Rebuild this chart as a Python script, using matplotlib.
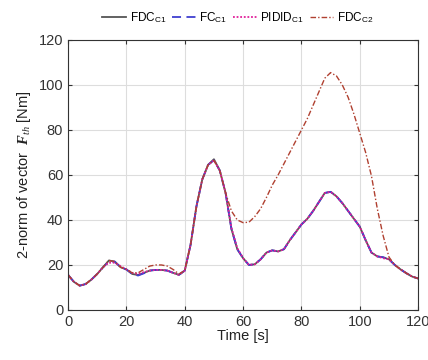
import matplotlib.pyplot as plt

plt.rcParams['font.family'] = ['Liberation Sans', 'DejaVu Sans']
plt.rcParams['mathtext.fontset'] = 'custom'
plt.rcParams['mathtext.rm'] = 'Liberation Sans'
plt.rcParams['mathtext.it'] = 'Liberation Serif:italic'
plt.rcParams['mathtext.bfit'] = 'Liberation Serif:italic:bold'

# time points [s]
t = list(range(0, 121, 2))

fdc_c1 = [15.6, 12.5, 10.8, 11.5, 13.5, 16, 19, 22, 21.5, 19, 18, 16, 15.5, 16.5, 17.5, 17.8,
          17.8, 17.5, 16.5, 15.6, 17.5, 29, 46, 58, 64.5, 67, 62, 52, 36, 27, 23, 20,
          20.3, 22.5, 25.5, 26.5, 26, 27, 31, 34.5, 38, 40.5, 44, 48, 52, 52.5, 50.5, 47.5,
          44, 40.5, 37, 31, 25.5, 23.8, 23.4, 22.5, 20, 18, 16.3, 14.8, 14]
fc_c1 = [15.6, 12.5, 10.8, 11.5, 13.5, 16, 19, 21.5, 21.5, 19, 18, 16, 15.3, 16.3, 17.5, 17.8,
         17.8, 17.5, 16.5, 15.6, 17.5, 29, 46, 58, 64.5, 66.5, 62, 52, 36, 27, 23, 20,
         20.3, 22.5, 25.5, 26.5, 26, 27, 31, 34.5, 38, 40.5, 44, 48, 52, 52.5, 50.5, 47.5,
         44, 40.5, 37, 31, 25.5, 23.8, 23.4, 22.5, 20, 18, 16.3, 14.8, 14]
pidid_c1 = [15.6, 12.5, 10.8, 11.5, 13.5, 16, 19, 21, 21, 19.5, 18, 16.5, 16, 16.8, 17.5, 17.8,
            17.8, 17.5, 16.5, 15.6, 17.5, 29, 46, 58, 64.5, 66.5, 62, 52, 36.5, 27.5, 23, 20,
            20.3, 22.5, 25.5, 26.5, 26, 27, 31, 34.5, 38, 40.5, 44, 48, 52, 52.5, 50.5, 47.5,
            44, 40.5, 37, 31, 25.5, 23.8, 23, 22.5, 20, 18, 16.3, 14.8, 14]
fdc_c2 = [15.6, 12.5, 10.8, 11.5, 13.5, 16, 19, 22, 21.5, 19, 18, 16.5, 16.5, 18, 19.5, 20,
          20, 19.5, 18, 16, 17.5, 29, 46, 58, 64.5, 66.5, 62, 52, 44, 40, 38.8, 39,
          41.5, 45, 50, 55.5, 60, 65, 70, 75, 80, 85, 91, 97, 103, 105.5, 104, 100,
          94.5, 87, 78.5, 70, 59.5, 45, 33, 23.5, 20, 18, 16.3, 14.8, 14]

fig = plt.figure(figsize=(4.28, 3.6), dpi=100)
ax = fig.add_axes([0.159, 0.139, 0.818, 0.75])

ax.plot(t, fdc_c1, color='#555555', lw=1.3, label=r'FDC$_{\mathrm{C1}}$')
ax.plot(t, fc_c1, color='#4040d0', lw=1.3, ls=(0, (5, 3)), label=r'FC$_{\mathrm{C1}}$')
ax.plot(t, pidid_c1, color='#e0209a', lw=1.3, ls=(0, (1, 1)), label=r'PIDID$_{\mathrm{C1}}$')
ax.plot(t, fdc_c2, color='#b04030', lw=1.0, ls=(0, (4, 1.5, 1, 1.5)), label=r'FDC$_{\mathrm{C2}}$')

ax.set_xlim(0, 120)
ax.set_ylim(0, 120)
ax.set_xticks(range(0, 121, 20))
ax.set_yticks(range(0, 121, 20))
ax.grid(color='#dddddd', lw=0.8)
ax.tick_params(direction='in', top=True, right=True, labelsize=10.5, labelcolor='#333333',
               color='#333333', length=3)
for s in ax.spines.values():
    s.set_color('#333333')
ax.set_xlabel('Time [s]', fontsize=10.5, labelpad=0, color='#222222')
ax.set_ylabel(r'2-norm of vector  $\mathbfit{F}_{th}$ [Nm]', fontsize=10.5, color='#222222', labelpad=4)

ax.legend(loc='lower center', bbox_to_anchor=(0.485, 1.03), ncol=4, frameon=False,
          fontsize=8.5, handlelength=2.0, handletextpad=0.3, columnspacing=0.5,
          borderpad=0.1)

fig.savefig('out.png', dpi=100)
